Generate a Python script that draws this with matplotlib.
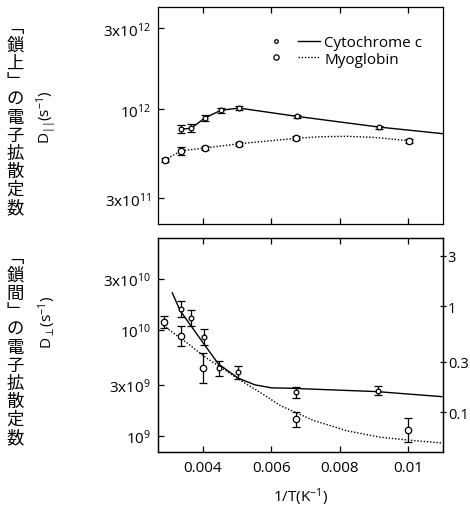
import matplotlib
matplotlib.use('Agg')
import matplotlib.pyplot as plt
from matplotlib.lines import Line2D
from matplotlib.legend_handler import HandlerTuple
from matplotlib.ticker import FixedLocator, FixedFormatter, NullLocator

plt.rcParams['font.family'] = ['Open Sans', 'Noto Sans CJK JP', 'DejaVu Sans']
plt.rcParams['mathtext.fontset'] = 'custom'
plt.rcParams['mathtext.rm'] = 'Open Sans'
plt.rcParams['mathtext.it'] = 'Open Sans:italic'
plt.rcParams['mathtext.bf'] = 'Open Sans:bold'
plt.rcParams['mathtext.fallback'] = 'stixsans'
plt.rcParams['font.size'] = 11

# --- top panel: diffusion along the chain, D_par (s^-1) ---
cyt_par_x = [0.00336, 0.00365, 0.00405, 0.00452, 0.00505, 0.00674, 0.00914]
cyt_par_y = [7.67e11, 7.74e11, 8.90e11, 9.88e11, 1.019e12, 9.11e11, 7.88e11]
cyt_par_err = [0.024, 0.024, 0.018, 0.015, 0.012, 0.010, 0.009]   # half width, decades
mb_par_x = [0.00288, 0.00336, 0.00405, 0.00505, 0.00671, 0.01002]
mb_par_y = [5.04e11, 5.71e11, 5.93e11, 6.28e11, 6.76e11, 6.55e11]
mb_par_err = [0.012, 0.024, 0.012, 0.012, 0.012, 0.012]

# guide lines
cyt_par_line_x = [0.00336, 0.00365, 0.00405, 0.00452, 0.00505, 0.00674, 0.00914, 0.01102]
cyt_par_line_y = [7.67e11, 7.74e11, 8.90e11, 9.88e11, 1.019e12, 9.11e11, 7.88e11, 7.20e11]
mb_par_line_x = [0.00288, 0.00336, 0.00405, 0.00505, 0.00671, 0.00743, 0.00821, 0.00899, 0.01002]
mb_par_line_y = [5.04e11, 5.71e11, 5.93e11, 6.28e11, 6.76e11, 6.91e11, 6.95e11, 6.85e11, 6.55e11]

# --- bottom panel: diffusion between chains, D_perp (s^-1) ---
cyt_perp_x = [0.00335, 0.00364, 0.00402, 0.00446, 0.00503, 0.00671, 0.00911]
cyt_perp_y = [1.55e10, 1.29e10, 8.47e9, 4.33e9, 3.96e9, 2.56e9, 2.66e9]
cyt_perp_err = [0.075, 0.075, 0.075, 0.07, 0.06, 0.05, 0.04]
mb_perp_x = [0.00287, 0.00335, 0.00400, 0.00671, 0.01001]
mb_perp_y = [1.19e10, 8.77e9, 4.33e9, 1.42e9, 1.13e9]
mb_perp_err = [0.057, 0.094, 0.14, 0.07, 0.113]

cyt_fit_x = [0.00310, 0.00333, 0.00406, 0.00445, 0.00503, 0.00552, 0.00601, 0.00650, 0.00699, 0.00909, 0.01099]
cyt_fit_y = [2.22e10, 1.51e10, 7.06e9, 4.74e9, 3.48e9, 3.01e9, 2.82e9, 2.80e9, 2.76e9, 2.60e9, 2.33e9]
mb_fit_x = [0.00284, 0.00357, 0.00406, 0.00455, 0.00503, 0.00582, 0.00626, 0.00723, 0.00821, 0.00918, 0.01016, 0.01099]
mb_fit_y = [1.09e10, 7.33e9, 5.50e9, 4.33e9, 3.43e9, 2.38e9, 1.92e9, 1.39e9, 1.11e9, 9.66e8, 8.97e8, 8.53e8]

x_ticks = [0.004, 0.006, 0.008, 0.01]
x_ticklabels = ['0.004', '0.006', '0.008', '0.01']
par_ticks = [3e11, 1e12, 3e12]
par_ticklabels = [r'3x10$^{11}$', r'10$^{12}$', r'3x10$^{12}$']
perp_ticks = [1e9, 3e9, 1e10, 3e10]
perp_ticklabels = [r'10$^{9}$', r'3x10$^{9}$', r'10$^{10}$', r'3x10$^{10}$']
right_ticks = [0.1, 0.3, 1, 3]
right_ticklabels = ['0.1', '0.3', '1', '3']
right_scale = 1.66e10   # D_perp value that sits at 1 on the right axis

xlim = (0.00268, 0.01102)
par_ylim = (2.12e11, 4.0e12)
perp_ylim = (7.02e8, 7.33e10)

dotted = (0, (1, 1.3))
small_ms = 3.4
big_ms = 4.6


def errs(vals, dex):
    lo = [v - v / 10 ** d for v, d in zip(vals, dex)]
    hi = [v * 10 ** d - v for v, d in zip(vals, dex)]
    return [lo, hi]


def points(ax, x, y, dex, ms):
    ax.errorbar(x, y, yerr=errs(y, dex), fmt='o', ms=ms, mfc='white', mec='k', mew=0.9,
                ecolor='k', elinewidth=0.9, capsize=3.2, capthick=0.9, zorder=3)


def style_axes(ax, ticks, labels, ylim):
    ax.set_yscale('log')
    ax.set_xlim(*xlim)
    ax.set_ylim(*ylim)
    ax.yaxis.set_major_locator(FixedLocator(ticks))
    ax.yaxis.set_major_formatter(FixedFormatter(labels))
    ax.yaxis.set_minor_locator(NullLocator())
    ax.xaxis.set_major_locator(FixedLocator(x_ticks))
    ax.tick_params(axis='both', direction='in', length=4, width=0.9, top=True, pad=5)
    for s in ax.spines.values():
        s.set_linewidth(0.9)


fig = plt.figure(figsize=(4.7, 5.1), dpi=100)
ax1 = fig.add_axes([0.336, 0.559, 0.6064, 0.425])
ax2 = fig.add_axes([0.336, 0.112, 0.6064, 0.4196])

# top panel
ax1.plot(cyt_par_line_x, cyt_par_line_y, color='k', lw=1)
ax1.plot(mb_par_line_x, mb_par_line_y, color='k', lw=1, ls=dotted)
points(ax1, cyt_par_x, cyt_par_y, cyt_par_err, small_ms)
points(ax1, mb_par_x, mb_par_y, mb_par_err, big_ms)
style_axes(ax1, par_ticks, par_ticklabels, par_ylim)
ax1.set_xticklabels([])

h_cyt = (Line2D([], [], ls='none', marker='o', ms=2.6, mfc='white', mec='k', mew=0.9),
         Line2D([], [], color='k', lw=1))
h_mb = (Line2D([], [], ls='none', marker='o', ms=3.8, mfc='white', mec='k', mew=0.9),
        Line2D([], [], color='k', lw=1, ls=dotted))
ax1.legend([h_cyt, h_mb], ['Cytochrome c', 'Myoglobin'],
           handler_map={tuple: HandlerTuple(ndivide=2, pad=0.75)},
           handlelength=3.6, handletextpad=0.3, labelspacing=0.12,
           loc='upper left', bbox_to_anchor=(0.353, 0.90), borderaxespad=0,
           frameon=False, fontsize=11)

# bottom panel
ax2.plot(cyt_fit_x, cyt_fit_y, color='k', lw=1)
ax2.plot(mb_fit_x, mb_fit_y, color='k', lw=1, ls=dotted)
points(ax2, cyt_perp_x, cyt_perp_y, cyt_perp_err, small_ms)
points(ax2, mb_perp_x, mb_perp_y, mb_perp_err, big_ms)
style_axes(ax2, perp_ticks, perp_ticklabels, perp_ylim)
ax2.set_xticklabels(x_ticklabels)
ax2.tick_params(axis='x', pad=6)
ax2.set_xlabel(r'1/T(K$^{-1}$)', labelpad=7)

axr = ax2.twinx()
axr.set_yscale('log')
axr.set_ylim(perp_ylim[0] / right_scale, perp_ylim[1] / right_scale)
axr.yaxis.set_major_locator(FixedLocator(right_ticks))
axr.yaxis.set_major_formatter(FixedFormatter(right_ticklabels))
axr.yaxis.set_minor_locator(NullLocator())
axr.tick_params(axis='y', direction='inout', length=5, width=0.9, pad=1, labelsize=10.5)
for s in axr.spines.values():
    s.set_linewidth(0.9)

# axis titles
fig.text(0.100, 1 - 117 / 510, r'D$_{||}$(s$^{-1}$)', rotation=90, ha='center', va='center', fontsize=11)
fig.text(0.100, 1 - 322 / 510, r'D$_{\perp}$(s$^{-1}$)', rotation=90, ha='center', va='center', fontsize=11)

# vertical Japanese titles, one character per row
pitch = 18 / 510
for label, yc in [('﹁鎖上﹂の電子拡散定数', 1 - 118 / 510), ('﹁鎖間﹂の電子拡散定数', 1 - 348 / 510)]:
    for k, ch in enumerate(label):
        fig.text(15 / 470, yc - (k - 5) * pitch, ch, ha='center', va='center', fontsize=12.5,
                 family=['Noto Sans CJK JP', 'DejaVu Sans'])

fig.savefig('out.png', dpi=100)
